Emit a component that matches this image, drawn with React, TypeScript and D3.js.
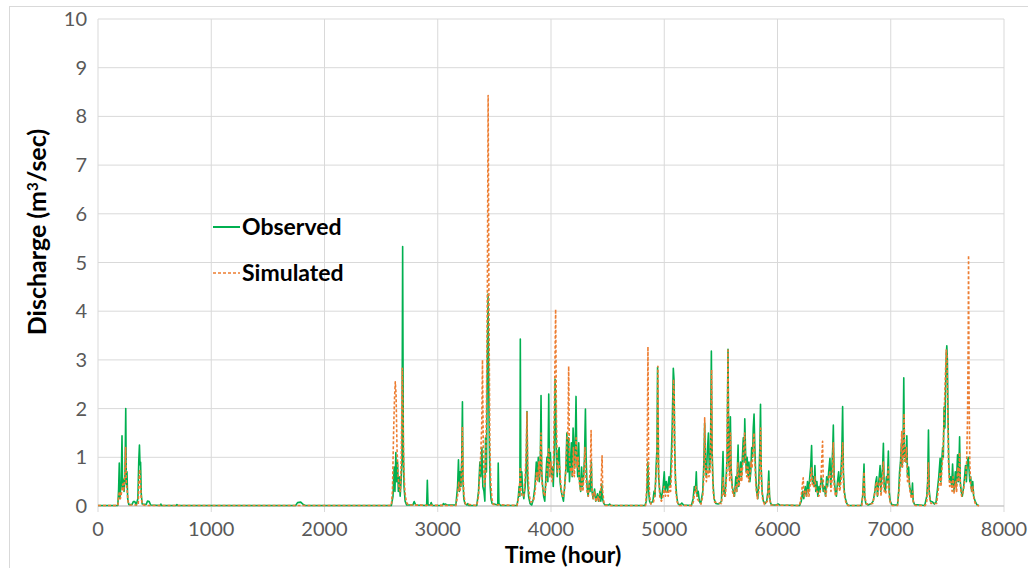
import React from 'react'
import * as d3 from 'd3'

// hourly discharge, [hour, m3/sec]
const observed: [number, number][] = [
  [0, 0.01], [175, 0.01], [182, 0.35], [188, 0.88], [193, 0.15], [205, 0.5], [212, 1.44], [217, 0.35], [224, 0.55],
  [230, 0.3], [238, 0.6], [245, 2.0], [250, 0.45], [256, 0.7], [262, 0.15], [272, 0.03], [300, 0.03], [312, 0.09],
  [325, 0.09], [338, 0.02], [352, 0.15], [360, 0.93], [366, 1.25], [371, 0.85], [376, 0.9], [382, 0.25], [390, 0.04],
  [425, 0.03], [437, 0.1], [452, 0.09], [465, 0.02], [548, 0.01], [555, 0.04], [562, 0.01], [690, 0.01], [697, 0.03],
  [704, 0.01], [1745, 0.01], [1762, 0.07], [1790, 0.08], [1812, 0.03], [1830, 0.01],
  [2590, 0.01], [2605, 0.2], [2615, 0.8], [2622, 0.3], [2630, 1.1], [2637, 0.5], [2645, 0.9], [2652, 0.3], [2660, 0.6],
  [2668, 0.2], [2676, 0.5], [2684, 0.9], [2690, 5.33], [2696, 1.2], [2702, 0.4], [2712, 0.1], [2725, 0.02], [2780, 0.02],
  [2792, 0.09], [2805, 0.02], [2902, 0.01], [2908, 0.53], [2914, 0.02], [2935, 0.02], [2942, 0.07], [2952, 0.01],
  [3040, 0.01], [3050, 0.05], [3062, 0.03], [3070, 0.04], [3080, 0.02], [3160, 0.02], [3175, 0.4], [3183, 0.95],
  [3190, 0.3], [3198, 0.7], [3205, 0.4], [3212, 0.98], [3218, 2.14], [3223, 0.5], [3230, 0.15], [3240, 0.05],
  [3258, 0.02], [3265, 0.05], [3275, 0.01],
  [3345, 0.01], [3360, 0.3], [3372, 0.9], [3380, 0.6], [3390, 1.2], [3398, 0.4], [3408, 0.3], [3416, 0.1], [3422, 1.4],
  [3430, 0.7], [3438, 3.0], [3444, 4.35], [3450, 2.5], [3456, 1.2], [3463, 0.4], [3470, 0.15], [3480, 0.05],
  [3530, 0.02], [3534, 0.88], [3540, 0.05], [3555, 0.01],
  [3700, 0.01], [3712, 0.2], [3718, 0.4], [3725, 0.2], [3729, 3.43], [3734, 0.4], [3742, 0.7], [3750, 0.3], [3760, 0.15],
  [3772, 0.4], [3782, 0.9], [3788, 1.94], [3794, 0.5], [3802, 0.2], [3815, 0.05], [3830, 0.02], [3845, 0.15], [3858, 0.4],
  [3870, 0.9], [3878, 0.6], [3888, 1.0], [3896, 0.5], [3905, 0.8], [3912, 2.27], [3918, 0.7], [3926, 0.4], [3935, 0.2],
  [3945, 0.1], [3955, 0.6], [3964, 1.0], [3972, 0.5], [3980, 2.3], [3986, 0.8], [3994, 1.1], [4003, 0.6], [4012, 0.8],
  [4020, 0.4], [4030, 1.2], [4036, 2.6], [4042, 2.0], [4048, 1.0], [4055, 0.6], [4064, 1.1], [4072, 1.2], [4080, 0.5],
  [4090, 0.3], [4100, 0.2], [4110, 0.1], [4120, 0.4], [4132, 0.8], [4140, 1.5], [4148, 0.7], [4156, 1.4], [4163, 0.5],
  [4172, 0.9], [4180, 1.3], [4187, 0.6], [4195, 1.6], [4202, 1.2], [4210, 0.8], [4216, 1.5], [4221, 2.25], [4228, 1.0],
  [4236, 0.6], [4245, 1.3], [4252, 0.5], [4262, 0.3], [4270, 0.8], [4278, 0.4], [4288, 0.6], [4296, 1.0], [4304, 1.99],
  [4310, 1.0], [4318, 0.4], [4328, 0.2], [4338, 0.5], [4345, 0.3], [4356, 0.9], [4362, 0.3], [4372, 0.15], [4385, 0.35],
  [4395, 0.1], [4410, 0.25], [4420, 0.1], [4432, 0.3], [4440, 0.1], [4448, 0.45], [4455, 0.15], [4466, 0.05],
  [4478, 0.02], [4510, 0.02], [4518, 0.04], [4530, 0.01],
  [4830, 0.01], [4842, 0.1], [4850, 0.5], [4856, 0.9], [4862, 0.3], [4870, 0.1], [4880, 0.05], [4900, 0.1], [4910, 0.3],
  [4918, 0.2], [4928, 0.8], [4936, 1.2], [4941, 2.85], [4950, 0.6], [4960, 0.3], [4975, 0.15], [4990, 0.4], [5000, 0.7],
  [5008, 0.3], [5018, 0.5], [5030, 0.3], [5042, 0.6], [5052, 0.4], [5062, 1.0], [5070, 1.6], [5080, 2.83], [5086, 2.6],
  [5092, 1.2], [5100, 0.5], [5110, 0.2], [5120, 0.05], [5140, 0.02], [5155, 0.06], [5170, 0.02],
  [5240, 0.01], [5255, 0.15], [5265, 0.4], [5275, 0.3], [5283, 0.7], [5290, 0.2], [5300, 0.3], [5310, 0.1], [5322, 0.05],
  [5340, 0.3], [5350, 0.9], [5357, 1.7], [5364, 0.8], [5372, 0.6], [5380, 1.1], [5390, 1.5], [5398, 0.7], [5408, 1.0],
  [5416, 3.18], [5422, 1.2], [5430, 0.5], [5440, 0.15], [5455, 0.05], [5475, 0.04], [5490, 0.05], [5505, 0.1],
  [5512, 0.6], [5519, 1.12], [5525, 0.3], [5535, 0.2], [5545, 0.5], [5555, 1.0], [5563, 3.22], [5570, 0.9], [5578, 0.7],
  [5584, 1.83], [5590, 0.8], [5600, 0.4], [5610, 0.3], [5620, 0.2], [5632, 0.6], [5640, 0.3], [5652, 1.25], [5658, 0.4],
  [5666, 0.6], [5674, 0.9], [5682, 0.6], [5690, 1.0], [5698, 1.4], [5705, 0.9], [5711, 1.79], [5717, 1.2], [5724, 0.7],
  [5732, 1.0], [5740, 0.6], [5748, 0.9], [5756, 0.5], [5764, 0.7], [5772, 1.2], [5780, 1.0], [5786, 1.6], [5793, 1.89],
  [5800, 1.2], [5808, 0.6], [5816, 0.3], [5826, 0.15], [5835, 0.5], [5844, 1.2], [5850, 2.09], [5856, 0.8], [5864, 0.3],
  [5875, 0.1], [5890, 0.05], [5905, 0.1], [5915, 0.3], [5923, 0.72], [5930, 0.2], [5940, 0.05], [5955, 0.02],
  [5990, 0.02], [6005, 0.04], [6020, 0.02],
  [6195, 0.01], [6210, 0.1], [6222, 0.3], [6232, 0.15], [6245, 0.4], [6255, 0.2], [6265, 0.5], [6275, 0.3], [6285, 0.6],
  [6293, 0.8], [6301, 1.24], [6308, 0.5], [6316, 0.6], [6323, 0.4], [6330, 0.83], [6338, 0.3], [6348, 0.5], [6356, 0.2],
  [6366, 0.4], [6376, 0.3], [6386, 0.6], [6396, 0.5], [6404, 0.3], [6414, 0.4], [6424, 0.2], [6434, 0.6], [6442, 0.4],
  [6452, 0.7], [6463, 0.98], [6470, 0.4], [6480, 0.8], [6488, 1.2], [6493, 1.66], [6500, 0.6], [6510, 0.3], [6520, 0.2],
  [6530, 0.5], [6540, 0.7], [6548, 0.4], [6558, 0.6], [6568, 1.1], [6575, 2.04], [6582, 0.7], [6590, 0.3], [6600, 0.15],
  [6612, 0.05], [6625, 0.01],
  [6740, 0.01], [6752, 0.2], [6758, 0.5], [6764, 0.86], [6770, 0.2], [6780, 0.05], [6800, 0.02], [6830, 0.05],
  [6845, 0.1], [6860, 0.3], [6868, 0.5], [6876, 0.6], [6882, 0.2], [6890, 0.4], [6898, 0.6], [6906, 0.83], [6912, 0.3],
  [6920, 0.6], [6928, 0.8], [6935, 1.29], [6942, 0.4], [6952, 0.3], [6962, 0.6], [6970, 0.5], [6979, 1.13], [6986, 0.3],
  [6995, 0.1], [7010, 0.03], [7030, 0.02],
  [7060, 0.02], [7070, 0.3], [7078, 0.7], [7086, 0.9], [7094, 1.3], [7100, 0.8], [7108, 1.1], [7115, 2.63], [7121, 1.0],
  [7128, 1.2], [7135, 0.9], [7142, 1.44], [7148, 0.6], [7158, 0.8], [7166, 0.4], [7176, 0.3], [7185, 0.2], [7192, 0.47],
  [7198, 0.1], [7210, 0.03],
  [7300, 0.01], [7318, 0.2], [7326, 0.5], [7333, 1.56], [7340, 0.3], [7350, 0.1], [7370, 0.08], [7385, 0.04],
  [7400, 0.08], [7415, 0.4], [7424, 0.6], [7436, 0.98], [7442, 0.5], [7450, 0.9], [7458, 1.2], [7464, 1.0], [7471, 2.03],
  [7478, 1.6], [7485, 2.5], [7490, 3.1], [7495, 3.29], [7500, 3.0], [7506, 1.8], [7512, 0.9], [7520, 0.5], [7530, 0.6],
  [7538, 0.4], [7546, 0.86], [7552, 0.5], [7560, 0.3], [7570, 0.7], [7578, 0.4], [7590, 1.05], [7596, 0.5], [7602, 0.8],
  [7608, 1.42], [7614, 0.5], [7622, 0.3], [7632, 0.2], [7644, 0.4], [7652, 0.6], [7660, 0.83], [7668, 0.5], [7676, 0.9],
  [7684, 1.0], [7690, 0.8], [7698, 0.5], [7706, 0.6], [7714, 0.3], [7724, 0.5], [7732, 0.2], [7745, 0.1], [7760, 0.03],
  [7775, 0.01],
]

const simulated: [number, number][] = [
  [0, 0.01], [175, 0.01], [182, 0.2], [190, 0.3], [198, 0.15], [210, 0.3], [218, 0.45], [226, 0.3], [236, 0.6],
  [244, 1.2], [250, 0.5], [258, 0.3], [266, 0.08], [280, 0.02], [355, 0.02], [362, 0.5], [368, 0.75], [374, 0.5],
  [382, 0.15], [392, 0.03], [420, 0.01],
  [2590, 0.01], [2600, 0.3], [2610, 1.5], [2618, 2.2], [2625, 2.55], [2632, 2.3], [2640, 1.2], [2650, 0.6], [2660, 0.35],
  [2670, 0.3], [2678, 1.0], [2687, 2.83], [2693, 2.0], [2700, 0.8], [2710, 0.3], [2722, 0.08], [2740, 0.02],
  [3160, 0.01], [3175, 0.2], [3185, 0.5], [3195, 0.3], [3205, 0.4], [3213, 1.0], [3218, 1.63], [3224, 0.6], [3232, 0.2],
  [3245, 0.04],
  [3345, 0.01], [3360, 0.2], [3375, 0.8], [3388, 1.6], [3395, 3.0], [3402, 1.2], [3412, 0.4], [3422, 0.6], [3430, 2.0],
  [3438, 4.4], [3445, 8.43], [3452, 4.0], [3460, 1.3], [3468, 0.5], [3478, 0.15], [3490, 0.03],
  [3700, 0.01], [3712, 0.15], [3720, 0.3], [3729, 0.8], [3735, 0.3], [3745, 0.2], [3760, 0.2], [3772, 0.6], [3782, 1.2],
  [3788, 1.94], [3795, 0.8], [3805, 0.3], [3818, 0.08], [3845, 0.1], [3860, 0.3], [3872, 0.7], [3882, 0.5], [3892, 0.9],
  [3900, 0.6], [3912, 1.5], [3920, 0.5], [3932, 0.3], [3945, 0.2], [3958, 0.5], [3968, 0.8], [3980, 1.2], [3988, 0.6],
  [3998, 0.9], [4010, 0.5], [4022, 0.9], [4032, 2.4], [4041, 4.04], [4048, 1.8], [4056, 0.7], [4066, 0.9], [4076, 0.8],
  [4088, 0.4], [4100, 0.2], [4115, 0.2], [4128, 0.6], [4140, 1.3], [4150, 1.6], [4156, 2.87], [4162, 1.0], [4172, 0.7],
  [4180, 0.8], [4190, 0.6], [4198, 1.2], [4206, 0.6], [4214, 1.0], [4222, 1.4], [4230, 0.8], [4240, 1.0], [4250, 0.5],
  [4262, 0.3], [4272, 0.6], [4282, 0.3], [4292, 0.7], [4300, 1.2], [4308, 0.6], [4318, 0.3], [4330, 0.2], [4342, 0.6],
  [4348, 0.8], [4354, 1.55], [4360, 0.4], [4372, 0.15], [4385, 0.3], [4398, 0.08], [4412, 0.2], [4425, 0.1],
  [4438, 0.3], [4445, 0.6], [4451, 1.03], [4457, 0.3], [4468, 0.05], [4480, 0.01],
  [4835, 0.01], [4844, 0.3], [4850, 1.2], [4856, 3.27], [4862, 0.9], [4870, 0.2], [4882, 0.04], [4905, 0.08],
  [4915, 0.2], [4925, 0.5], [4935, 0.9], [4944, 2.87], [4950, 0.8], [4960, 0.2], [4975, 0.1], [4990, 0.2], [5000, 0.4],
  [5010, 0.2], [5022, 0.3], [5035, 0.2], [5046, 0.4], [5056, 0.3], [5066, 0.8], [5074, 1.4], [5082, 2.6], [5088, 2.3],
  [5094, 0.9], [5102, 0.3], [5115, 0.08], [5130, 0.01],
  [5245, 0.01], [5258, 0.1], [5270, 0.3], [5280, 0.4], [5290, 0.15], [5305, 0.1], [5325, 0.04], [5340, 0.2], [5350, 0.6],
  [5357, 1.81], [5364, 0.9], [5372, 0.5], [5384, 0.8], [5394, 0.6], [5404, 0.7], [5412, 1.6], [5418, 2.8], [5424, 0.9],
  [5432, 0.3], [5445, 0.08], [5505, 0.05], [5515, 0.3], [5520, 0.6], [5527, 0.2], [5540, 0.2], [5552, 0.7], [5558, 2.0],
  [5563, 3.2], [5569, 1.0], [5578, 0.5], [5585, 1.5], [5592, 0.6], [5602, 0.3], [5614, 0.2], [5628, 0.4], [5640, 0.3],
  [5650, 0.9], [5658, 0.4], [5668, 0.5], [5676, 0.8], [5684, 0.5], [5694, 0.9], [5702, 1.2], [5710, 1.5], [5718, 0.9],
  [5728, 0.6], [5738, 0.8], [5746, 0.5], [5756, 0.6], [5766, 0.9], [5776, 0.8], [5786, 1.3], [5793, 1.5], [5800, 0.9],
  [5810, 0.4], [5822, 0.15], [5836, 0.3], [5845, 0.9], [5851, 1.6], [5858, 0.5], [5868, 0.15], [5885, 0.03],
  [5910, 0.1], [5918, 0.35], [5924, 0.5], [5930, 0.15], [5942, 0.02],
  [6195, 0.01], [6210, 0.2], [6220, 0.45], [6227, 0.58], [6234, 0.2], [6246, 0.3], [6258, 0.2], [6268, 0.35],
  [6278, 0.2], [6290, 0.5], [6300, 0.8], [6308, 0.4], [6318, 0.4], [6330, 0.6], [6340, 0.3], [6352, 0.3], [6364, 0.2],
  [6378, 0.3], [6390, 0.9], [6398, 1.33], [6405, 0.4], [6416, 0.3], [6428, 0.2], [6440, 0.5], [6452, 0.6], [6463, 0.7],
  [6472, 0.3], [6484, 0.6], [6493, 1.3], [6500, 0.4], [6512, 0.2], [6525, 0.3], [6538, 0.5], [6550, 0.3], [6560, 0.5],
  [6570, 0.9], [6576, 1.3], [6583, 0.4], [6595, 0.15], [6610, 0.03], [6625, 0.01],
  [6745, 0.01], [6755, 0.3], [6764, 0.7], [6770, 0.2], [6785, 0.04], [6840, 0.05], [6855, 0.2], [6866, 0.4],
  [6876, 0.5], [6884, 0.2], [6894, 0.4], [6906, 0.6], [6914, 0.2], [6924, 0.5], [6935, 0.9], [6942, 0.3], [6955, 0.25],
  [6965, 0.4], [6979, 0.8], [6986, 0.2], [6998, 0.05], [7015, 0.01],
  [7060, 0.01], [7072, 0.3], [7082, 0.6], [7090, 1.0], [7097, 1.53], [7104, 0.8], [7112, 1.2], [7118, 1.9], [7124, 0.9],
  [7132, 1.0], [7140, 1.2], [7148, 0.5], [7160, 0.6], [7170, 0.3], [7182, 0.15], [7194, 0.3], [7200, 0.08], [7215, 0.01],
  [7305, 0.01], [7318, 0.1], [7326, 0.4], [7333, 0.9], [7340, 0.2], [7355, 0.05], [7405, 0.05], [7418, 0.3],
  [7428, 0.5], [7436, 0.7], [7444, 0.4], [7452, 0.8], [7460, 1.0], [7468, 1.6], [7476, 2.2], [7484, 2.8], [7490, 3.2],
  [7496, 3.1], [7503, 2.0], [7510, 0.9], [7520, 0.4], [7532, 0.5], [7542, 0.3], [7550, 0.6], [7560, 0.25], [7572, 0.5],
  [7582, 0.3], [7592, 0.8], [7600, 0.5], [7608, 1.1], [7615, 0.4], [7626, 0.2], [7640, 0.3], [7652, 0.5], [7662, 0.6],
  [7670, 0.9], [7678, 1.8], [7684, 3.5], [7687, 5.15], [7691, 2.5], [7698, 0.9], [7706, 0.4], [7716, 0.3], [7726, 0.4],
  [7734, 0.15], [7748, 0.04], [7770, 0.01], [7780, 0],
]

const xTicks = [0, 1000, 2000, 3000, 4000, 5000, 6000, 7000, 8000]
const yTicks = [0, 1, 2, 3, 4, 5, 6, 7, 8, 9, 10]

const W = 1028
const H = 568
const margin = { left: 98, right: 24, top: 19, bottom: 62 }
const GREEN = '#00b050'
const ORANGE = '#ed7d31'
const FONT = 'Lato, "Open Sans", sans-serif'

export default function App() {
  const x = d3.scaleLinear().domain([0, 8000]).range([margin.left, W - margin.right])
  const y = d3.scaleLinear().domain([0, 10]).range([H - margin.bottom, margin.top])

  const line = d3.line<[number, number]>()
    .x(d => x(d[0]))
    .y(d => y(d[1]))

  const y0 = y(0)

  return (
    <svg width={W} height={H} style={{ position: 'absolute', left: 0, top: 0, background: '#fff' }}>
      {/* chart frame */}
      <line x1={9} x2={W} y1={6.5} y2={6.5} stroke="#d9d9d9" />
      <line x1={9.5} x2={9.5} y1={6} y2={H} stroke="#d9d9d9" />

      {/* grid */}
      {yTicks.map(t => (
        <line key={`gy-${t}`} x1={x(0)} x2={x(8000)} y1={y(t)} y2={y(t)} stroke="#d9d9d9" strokeWidth={1} />
      ))}
      {xTicks.map(t => (
        <line key={`gx-${t}`} x1={x(t)} x2={x(t)} y1={y(10)} y2={y0 + 6} stroke="#d9d9d9" strokeWidth={1} />
      ))}
      <line x1={x(0)} x2={x(8000)} y1={y0} y2={y0} stroke="#bfbfbf" />

      {/* tick labels */}
      {yTicks.map(t => (
        <text key={`ty-${t}`} x={x(0) - 11} y={y(t)} dy="0.35em" textAnchor="end"
          fontFamily={FONT} fontSize={20} fill="#595959">{t}</text>
      ))}
      {xTicks.map(t => (
        <text key={`tx-${t}`} x={x(t)} y={y0 + 30} textAnchor="middle"
          fontFamily={FONT} fontSize={20} fill="#595959">{t}</text>
      ))}

      {/* series */}
      <path d={line(observed) ?? ''} fill="none" stroke={GREEN} strokeWidth={1.6} strokeLinejoin="round" />
      <path d={line(simulated) ?? ''} fill="none" stroke={ORANGE} strokeWidth={1.6} strokeDasharray="3,2" strokeLinejoin="round" />

      {/* axis titles */}
      <text x={563} y={563} textAnchor="middle" fontFamily={FONT} fontSize={23} fontWeight="bold" fill="#000">
        Time (hour)
      </text>
      <text transform="translate(46, 232) rotate(-90)" textAnchor="middle" fontFamily={FONT}
        fontSize={25} fontWeight="bold" fill="#000">
        Discharge (m<tspan dy="-8" fontSize={15}>3</tspan><tspan dy="8">/sec)</tspan>
      </text>

      {/* legend */}
      <line x1={213} x2={240} y1={227} y2={227} stroke={GREEN} strokeWidth={2} />
      <text x={242} y={235} fontFamily={FONT} fontSize={23} fontWeight="bold" fill="#000">Observed</text>
      <line x1={213} x2={240} y1={273} y2={273} stroke={ORANGE} strokeWidth={1.5} strokeDasharray="3,2" />
      <text x={242} y={281} fontFamily={FONT} fontSize={23} fontWeight="bold" fill="#000">Simulated</text>
    </svg>
  )
}
